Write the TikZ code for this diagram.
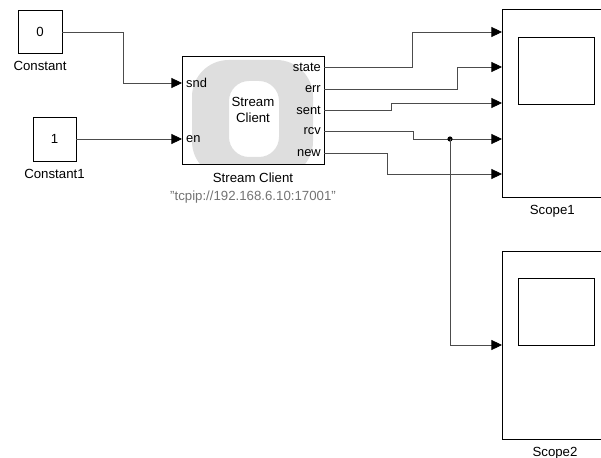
\documentclass[tikz,border=0pt]{standalone}
\usepackage{fontspec}
\setmainfont{Liberation Sans}
\usepackage{xcolor}
\usetikzlibrary{arrows.meta, positioning}

\begin{document}
\begin{tikzpicture}[
    x=0.03cm, y=-0.03cm,
    font=\fontsize{11.3}{13}\selectfont,
    block/.style={rectangle, draw, line width=0.8pt, inner sep=0pt},
    screen/.style={rectangle, draw, line width=0.8pt, minimum width=2.28cm,
                minimum height=2.01cm, inner sep=0pt},
    port/.style={inner sep=0pt, font=\fontsize{11}{12}\selectfont},
    wire/.style={draw=black!70, line width=0.6pt},
    arr/.style={wire, -{Triangle[length=9pt, width=8.5pt, color=black]}},
]
\useasboundingbox (0,0) rectangle (601,458);

% source blocks
\node[block, minimum width=1.32cm, minimum height=1.29cm] (const0) at (40,32) {0};
\node[below=3pt of const0] (const0-lbl) {Constant};
\node[block, minimum width=1.29cm, minimum height=1.32cm] (const1) at (54.5,139) {1};
\node[below=3pt of const1] (const1-lbl) {Constant1};

% stream client, with its faint logo
\begin{scope}
\clip (182,56) rectangle (324,164);
\fill[black!13, even odd rule]
    (192,60) [rounded corners=1.1cm] rectangle (313,178)
    (229,81) [rounded corners=0.6cm] rectangle (279,157);
\end{scope}
\node[block, minimum width=4.26cm, minimum height=3.24cm, align=center] (sc) at (253,110)
    {Stream\\Client};
\node[below=4pt of sc] (sc-lbl) {Stream Client};
\node[below=0pt of sc-lbl, text=black!55] (sc-addr) {"tcpip://192.168.6.10:17001"};

\coordinate (sc-snd) at (182,83);
\coordinate (sc-en) at (182,139);
\node[port, anchor=west] (p-snd) at (186,83) {snd};
\node[port, anchor=west] (p-en) at (186,139) {en};
\foreach \name/\y in {state/67, err/89, sent/110, rcv/131, new/153} {
    \coordinate (sc-\name) at (324,\y);
    \node[port, anchor=east] (p-\name) at (321,\y) {\name};
}

% scopes
\node[block, minimum width=3.18cm, minimum height=5.64cm] (scope1) at (555,103) {};
\node[screen] (scr1) at (556,70.5) {};
\node[below=3pt of scope1.south, xshift=-0.08cm] (scope1-lbl) {Scope1};
\node[block, minimum width=3.18cm, minimum height=5.64cm] (scope2) at (555,345) {};
\node[screen] (scr2) at (556,312) {};
\node[below=3pt of scope2.south] (scope2-lbl) {Scope2};

\foreach \i/\y in {1/32, 2/67, 3/103, 4/139, 5/174}
    \coordinate (s1-in\i) at (502,\y);
\coordinate (s2-in1) at (502,345);

% wiring
\draw[arr] (const0.east) -- ++(61,0) |- (sc-snd);
\draw[arr] (const1.east) -- (sc-en);
\draw[arr] (sc-state) -- ++(88,0) |- (s1-in1);
\draw[arr] (sc-err) -- ++(133,0) |- (s1-in2);
\draw[arr] (sc-sent) -- ++(67,0) |- (s1-in3);
\draw[arr] (sc-rcv) -- ++(89,0) |- (s1-in4);
\draw[arr] (sc-new) -- ++(63,0) |- (s1-in5);
\coordinate (br) at (450,139);
\fill (br) circle (2.2pt);
\draw[arr] (br) |- (s2-in1);
\end{tikzpicture}
\end{document}
